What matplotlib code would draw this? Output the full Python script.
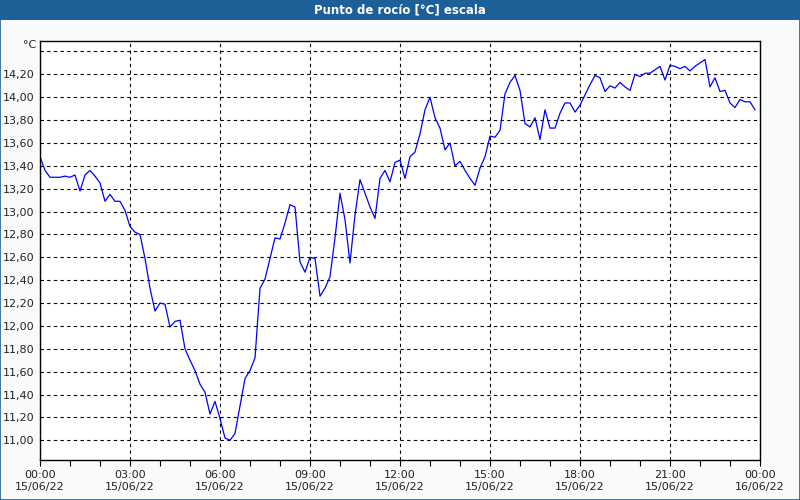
import matplotlib
matplotlib.use('Agg')
import matplotlib.pyplot as plt
import matplotlib.dates as mdates
import matplotlib.ticker as mticker
from matplotlib.patches import Rectangle
import numpy as np
import pandas as pd

# dew point readings, every 10 minutes from 15/06/22 00:00
dew_point = [13.48, 13.36, 13.30, 13.30, 13.30, 13.31, 13.30, 13.32, 13.18, 13.32,
             13.36, 13.31, 13.25, 13.09, 13.15, 13.09, 13.09, 13.01, 12.87, 12.82,
             12.80, 12.59, 12.33, 12.13, 12.20, 12.19, 11.99, 12.04, 12.05, 11.80,
             11.70, 11.61, 11.49, 11.42, 11.23, 11.34, 11.19, 11.02, 11.00, 11.06,
             11.30, 11.54, 11.61, 11.72, 12.33, 12.41, 12.59, 12.77, 12.76, 12.90,
             13.06, 13.04, 12.56, 12.47, 12.60, 12.59, 12.26, 12.33, 12.43, 12.77,
             13.16, 12.93, 12.55, 12.97, 13.28, 13.16, 13.04, 12.94, 13.29, 13.36,
             13.26, 13.43, 13.45, 13.29, 13.48, 13.52, 13.68, 13.89, 14.00, 13.82,
             13.73, 13.54, 13.60, 13.40, 13.44, 13.36, 13.29, 13.23, 13.38, 13.48,
             13.66, 13.65, 13.71, 14.03, 14.13, 14.19, 14.06, 13.77, 13.74, 13.82,
             13.63, 13.89, 13.73, 13.73, 13.86, 13.95, 13.95, 13.87, 13.93, 14.02,
             14.11, 14.19, 14.17, 14.05, 14.10, 14.08, 14.13, 14.09, 14.06, 14.20,
             14.18, 14.21, 14.21, 14.24, 14.27, 14.15, 14.28, 14.27, 14.25, 14.27,
             14.23, 14.27, 14.30, 14.33, 14.09, 14.17, 14.05, 14.06, 13.95, 13.91,
             13.98, 13.96, 13.96, 13.89]
times = pd.date_range('2022-06-15 00:00', periods=len(dew_point), freq='10min')

y_ticks = [11.0, 11.2, 11.4, 11.6, 11.8, 12.0, 12.2, 12.4, 12.6, 12.8,
           13.0, 13.2, 13.4, 13.6, 13.8, 14.0, 14.2, 14.4]
title = 'Punto de rocío [°C] escala'
unit = '°C'

fig = plt.figure(figsize=(8, 5), dpi=100, facecolor='#f9fbfb')

# title bar + frame
fig.patches.append(Rectangle((0, 0.96), 1, 0.04, transform=fig.transFigure,
                             facecolor='#1d5f97', edgecolor='none', zorder=0))
fig.patches.append(Rectangle((0.0006, 0.001), 0.9988, 0.998, transform=fig.transFigure,
                             facecolor='none', edgecolor='#1d5f97', lw=1.2, zorder=5))
fig.text(0.5, 0.98, title, color='white', fontsize=8.5, fontweight='bold',
         ha='center', va='center')

ax = fig.add_axes([0.05, 0.0794, 0.9, 0.8396])
ax.set_facecolor('white')
ax.plot(times, dew_point, color='#0000ff', lw=0.9)

ax.set_xlim(pd.Timestamp('2022-06-15 00:00'), pd.Timestamp('2022-06-16 00:00'))
ax.set_ylim(10.825, 14.496)

ax.xaxis.set_major_locator(mdates.HourLocator(byhour=range(0, 24, 3)))
ax.xaxis.set_minor_locator(mdates.HourLocator())
ax.xaxis.set_major_formatter(mdates.DateFormatter('%H:%M\n%d/%m/%y'))

ax.set_yticks(y_ticks)
ax.yaxis.set_major_formatter(mticker.FuncFormatter(
    lambda v, p: '' if v > 14.3 else '{0:.2f}'.format(v).replace('.', ',')))
ax.text(-0.005, 14.46, unit, transform=ax.get_yaxis_transform(),
        ha='right', va='center', fontsize=8, color='#222222')

ax.grid(True, which='major', color='black', linestyle=(0, (3, 3)), lw=0.8)
ax.tick_params(axis='y', length=0, pad=4, labelsize=8, labelcolor='#222222')
ax.tick_params(axis='x', which='both', length=4, width=0.8, direction='out',
               pad=3, labelsize=8, labelcolor='#222222')
for s in ax.spines.values():
    s.set_color('black')
    s.set_linewidth(1)

plt.savefig('out.png', dpi=100, facecolor=fig.get_facecolor())
